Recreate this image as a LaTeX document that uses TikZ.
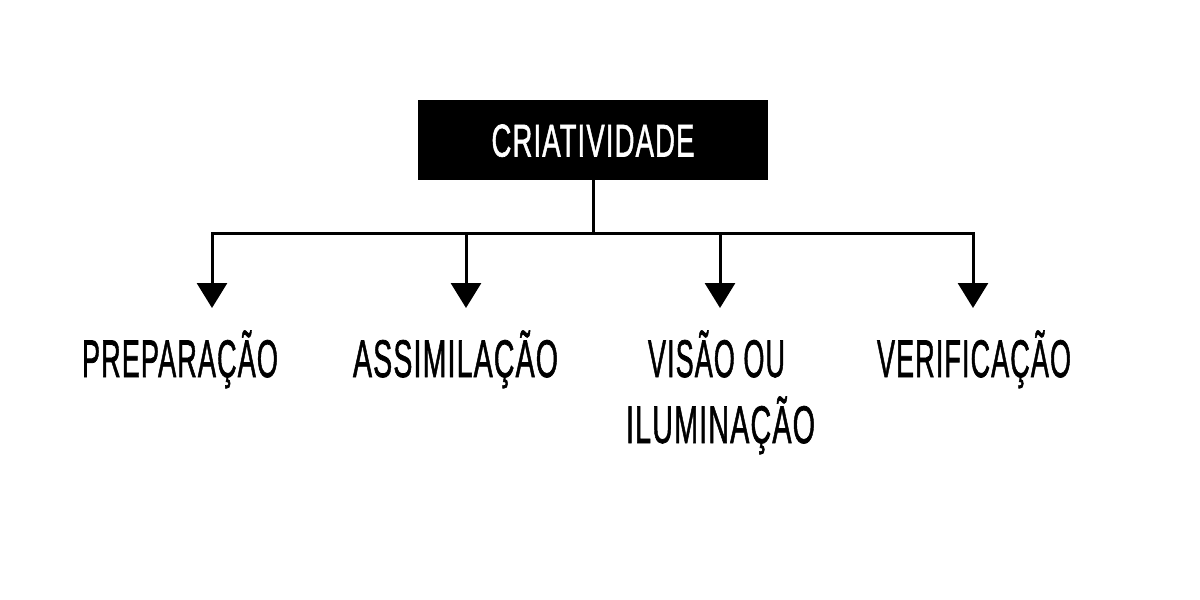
\documentclass[tikz,border=0pt]{standalone}
\usepackage{fontspec}
\setmainfont{Liberation Sans}
\newfontfamily\condfont[FakeBold=1.5,LetterSpace=4]{Liberation Sans}
\usepackage{graphicx}
\usetikzlibrary{arrows.meta}
\newcommand{\fitw}[2]{\resizebox{#1}{\height}{#2}}
\begin{document}
\begin{tikzpicture}[x=1pt,y=-1pt,
  conn/.style={line width=3pt,line join=miter,-{Triangle[width=30pt,length=25pt]}},
  bus/.style={line width=3pt,line join=miter},
  lbl/.style={anchor=base,inner sep=0pt,font=\fontsize{53}{60}\selectfont\condfont},
  topbox/.style={fill=black,text=white,minimum width=350pt,minimum height=80pt,inner sep=0pt,text height=33pt,text depth=0pt,font=\fontsize{46}{50}\selectfont\condfont}]
\useasboundingbox[fill=white] (0,0) rectangle (1200,600);
\node[topbox] (top) at (593,140) {\fitw{203pt}{CRIATIVIDADE}};
\coordinate (j) at (593,233);
\coordinate (b2) at (466,233);
\coordinate (b3) at (720,233);
\coordinate (t1) at (212,308);
\coordinate (t2) at (466,308);
\coordinate (t3) at (720,308);
\coordinate (t4) at (973,308);
\draw[bus] (top.south) -- (j);
\draw[conn] (j) -| (t1);
\draw[conn] (j) -| (t4);
\draw[conn] (b2) -- (t2);
\draw[conn] (b3) -- (t3);
\node[lbl] (p1) at (180,377) {\fitw{196pt}{PREPARAÇÃO}};
\node[lbl] (p2) at (455.5,377) {\fitw{205pt}{ASSIMILAÇÃO}};
\node[lbl] (p3) at (716.5,377) {\fitw{137pt}{VISÃO OU}};
\node[lbl] (p3b) at (720.5,443) {\fitw{189pt}{ILUMINAÇÃO}};
\node[lbl] (p4) at (974,377) {\fitw{194pt}{VERIFICAÇÃO}};
\end{tikzpicture}
\end{document}
